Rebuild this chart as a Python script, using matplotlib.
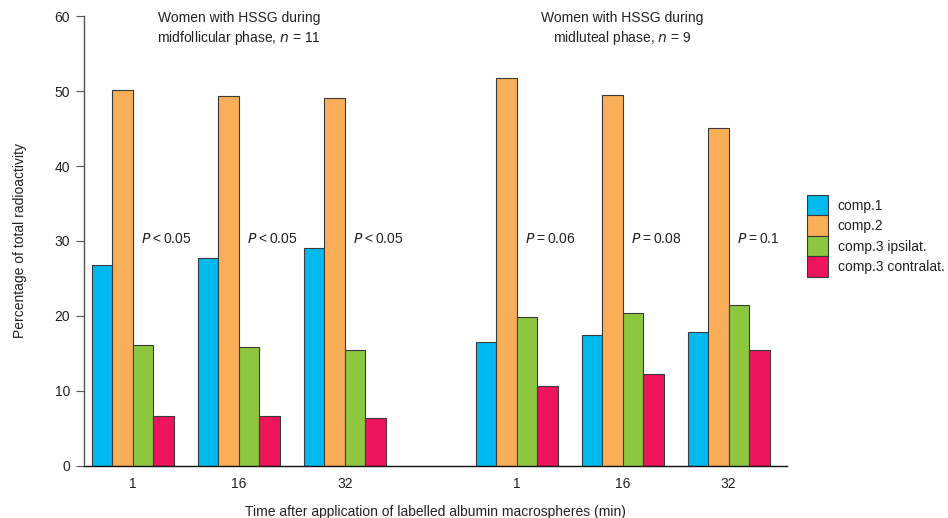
import matplotlib.pyplot as plt
import numpy as np

plt.rcParams.update(
    {
        "font.family": ["Liberation Sans", "DejaVu Sans"],
        "font.size": 10,
        "text.color": "#222222",
        "axes.labelcolor": "#222222",
        "xtick.color": "#222222",
        "ytick.color": "#222222",
    }
)

times = ["1", "16", "32"]
series = ["comp.1", "comp.2", "comp.3 ipsilat.", "comp.3 contralat."]
colors = ["#00b9ee", "#f9ae57", "#8dc63f", "#ed145b"]

# midfollicular phase, n = 11
follicular = [
    [26.8, 27.7, 29.0],  # comp.1
    [50.2, 49.4, 49.1],  # comp.2
    [16.1, 15.9, 15.4],  # comp.3 ipsilat.
    [6.7, 6.7, 6.4],     # comp.3 contralat.
]
# midluteal phase, n = 9
luteal = [
    [16.5, 17.4, 17.9],
    [51.7, 49.5, 45.1],
    [19.8, 20.4, 21.4],
    [10.7, 12.2, 15.5],
]
p_follicular = ["<0.05", "<0.05", "<0.05"]
p_luteal = ["=0.06", "=0.08", "=0.1"]

# group centres
x_left = np.arange(3)
x_right = np.arange(3) + 3.62
width = 0.193

fig = plt.figure(figsize=(9.48, 5.18), dpi=100)
ax = fig.add_axes([0.0886, 0.1004, 0.7416, 0.8687])

for i, (name, col) in enumerate(zip(series, colors)):
    off = (i - 1.5) * width
    ax.bar(x_left + off, follicular[i], width, color=col, edgecolor="#3a3a3a",
           linewidth=0.8, label=name)
    ax.bar(x_right + off, luteal[i], width, color=col, edgecolor="#3a3a3a",
           linewidth=0.8)

for xs, ps, op in [(x_left, p_follicular, "<"), (x_right, p_luteal, "=")]:
    for x, p in zip(xs, ps):
        ax.text(x + 0.08, 30.3, r"$P$" + p.replace(op, "\u2009" + op + "\u2009"),
                ha="left", va="center", fontsize=10)

ax.text(x_left[1], 58.3, "Women with HSSG during\nmidfollicular phase, $n$ = 11",
        ha="center", va="center", fontsize=10, linespacing=1.3)
ax.text(x_right[1], 58.3, "Women with HSSG during\nmidluteal phase, $n$ = 9",
        ha="center", va="center", fontsize=10, linespacing=1.3)

ax.set_xlim(-0.46, 6.17)
ax.set_ylim(0, 60)
ax.set_yticks(range(0, 61, 10))
ax.set_xticks(np.concatenate([x_left, x_right]))
ax.set_xticklabels(times + times)
ax.tick_params(axis="x", length=0, pad=8)
ax.tick_params(axis="y", length=6, width=0.8, color="#555555", pad=4)

for s in ["top", "right"]:
    ax.spines[s].set_visible(False)
ax.spines["left"].set_color("#555555")
ax.spines["left"].set_linewidth(1.0)
ax.spines["bottom"].set_color("#111111")
ax.spines["bottom"].set_linewidth(1.0)

ax.set_ylabel("Percentage of total radioactivity", labelpad=20)
ax.set_xlabel("Time after application of labelled albumin macrospheres (min)",
              labelpad=10)

# tall swatches, stacked with no gap
fig.legend(loc="upper left", bbox_to_anchor=(807 / 948, 1 - 195 / 518),
           frameon=False, borderpad=0, borderaxespad=0, labelspacing=0,
           handlelength=1.5, handleheight=1.89, handletextpad=0.7, fontsize=10)

plt.savefig("out.png", dpi=100)
